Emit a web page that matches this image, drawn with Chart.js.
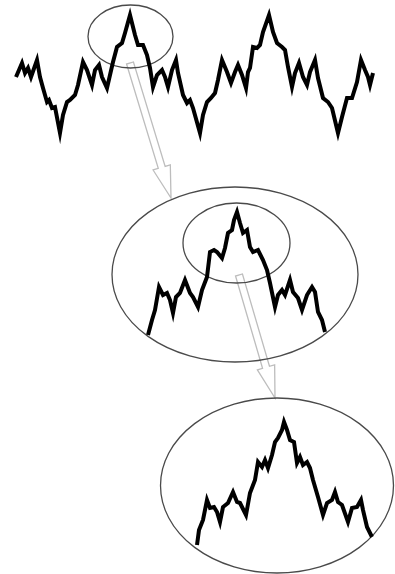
<!DOCTYPE html>
<html>
<head>
<meta charset="utf-8">
<script src="https://cdn.jsdelivr.net/npm/chart.js@4.4.1/dist/chart.umd.min.js"></script>
<style>
  html, body { margin: 0; padding: 0; background: #fff; }
  #wrap { width: 395px; height: 574px; }
</style>
</head>
<body>
<div id="wrap"><canvas id="fractal" width="395" height="574"></canvas></div>
<script>
// Curva completa (arriba) y dos ampliaciones del pico (medio y abajo)
const topX = [16, 22, 25, 28, 31, 37, 40, 43, 47, 49, 52, 55, 60, 63, 67, 70, 75, 78, 83, 87, 92, 95, 99, 102, 107, 110, 113, 117, 122, 125, 130,
  135, 138, 143, 147, 150, 153, 157, 162, 165, 168, 172, 176, 178, 183, 187, 190, 193, 200, 203, 207, 211, 215, 218, 222, 227, 231, 235, 238, 242, 246, 248,
  250, 253, 257, 260, 263, 269, 273, 277, 282, 285, 288, 292, 295, 299, 303, 307, 310, 315, 318, 323, 328, 332, 338, 342, 347, 352, 357, 361, 365, 368, 370, 373];
const topY = [77, 63, 73, 68, 77, 60, 77, 88, 102, 100, 108, 107, 133, 115, 102, 100, 95, 85, 62, 70, 85, 70, 65, 77, 88, 75, 62, 47, 43, 33, 15,
  35, 45, 45, 55, 68, 87, 75, 70, 77, 87, 70, 60, 73, 95, 103, 100, 108, 133, 115, 102, 98, 93, 80, 60, 72, 83, 72, 65, 75, 88, 72,
  68, 47, 48, 45, 32, 15, 32, 43, 47, 50, 67, 87, 73, 63, 77, 85, 72, 60, 78, 98, 102, 108, 133, 117, 98, 98, 82, 60, 70, 77, 85, 73];

const midX = [148, 152, 155, 159, 163, 167, 170, 173, 176, 180, 185, 190, 193, 198, 202, 207, 210, 214, 217, 222, 225, 228, 232, 234, 237,
  240, 243, 247, 250, 253, 258, 263, 267, 270, 275, 278, 282, 285, 290, 293, 298, 302, 307, 312, 315, 318, 322, 325];
const midY = [335, 320, 310, 287, 295, 293, 300, 313, 297, 293, 280, 293, 297, 307, 290, 277, 252, 250, 252, 258, 248, 233, 230, 220, 212,
  223, 233, 230, 247, 252, 250, 260, 270, 283, 307, 295, 290, 295, 280, 292, 298, 310, 295, 287, 292, 312, 320, 332];

const botX = [197, 199, 203, 207, 210, 214, 217, 220, 223, 228, 233, 237, 240, 246, 250, 255, 258, 262, 265, 268, 272, 275, 278, 282, 284,
  287, 290, 294, 297, 300, 303, 307, 310, 313, 318, 323, 327, 332, 335, 338, 342, 348, 352, 357, 361, 363, 367, 372];
const botY = [545, 530, 520, 500, 508, 507, 512, 522, 507, 503, 492, 502, 503, 515, 493, 480, 462, 467, 460, 468, 455, 442, 438, 430, 422,
  430, 440, 442, 463, 457, 465, 462, 468, 480, 497, 515, 503, 500, 492, 502, 505, 522, 508, 507, 500, 510, 527, 537];

// Elipses de ampliación: centro y radios
const ellipseCx = [130.5, 235, 236.5, 277];
const ellipseCy = [36.5, 274.5, 243, 485.5];
const ellipseRx = [42.5, 123, 53.5, 116.5];
const ellipseRy = [31.5, 87.5, 40, 87.5];

// Flechas huecas: cola -> punta
const arrowFromX = [130, 239];
const arrowFromY = [63, 275];
const arrowToX = [171, 275];
const arrowToY = [198, 398];

const toPoints = (xs, ys) => xs.map((x, i) => ({ x: x, y: ys[i] }));

// Dibuja las flechas y las elipses debajo de las curvas
const zoomMarksPlugin = {
    id: "zoomMarks",
    beforeDatasetsDraw(chart) {
        const { ctx, scales } = chart;
        const sx = scales.x, sy = scales.y;
        ctx.save();

        for (let i = 0; i < arrowFromX.length; i++) {
            const x0 = sx.getPixelForValue(arrowFromX[i]), y0 = sy.getPixelForValue(arrowFromY[i]);
            const x1 = sx.getPixelForValue(arrowToX[i]), y1 = sy.getPixelForValue(arrowToY[i]);
            const len = Math.hypot(x1 - x0, y1 - y0);
            const ux = (x1 - x0) / len, uy = (y1 - y0) / len;
            const px = -uy, py = ux;
            const shaft = 3.6, head = 9, headLen = 32;
            const bx = x1 - ux * headLen, by = y1 - uy * headLen;
            ctx.beginPath();
            ctx.moveTo(x0 + px * shaft, y0 + py * shaft);
            ctx.lineTo(bx + px * shaft, by + py * shaft);
            ctx.lineTo(bx + px * head, by + py * head);
            ctx.lineTo(x1, y1);
            ctx.lineTo(bx - px * head, by - py * head);
            ctx.lineTo(bx - px * shaft, by - py * shaft);
            ctx.lineTo(x0 - px * shaft, y0 - py * shaft);
            ctx.closePath();
            ctx.fillStyle = "#fff";
            ctx.fill();
            ctx.strokeStyle = "#bdbdbd";
            ctx.lineWidth = 1.3;
            ctx.stroke();
        }

        ctx.strokeStyle = "#4a4a4a";
        ctx.lineWidth = 1.3;
        for (let i = 0; i < ellipseCx.length; i++) {
            const cx = sx.getPixelForValue(ellipseCx[i]), cy = sy.getPixelForValue(ellipseCy[i]);
            const rx = Math.abs(sx.getPixelForValue(ellipseCx[i] + ellipseRx[i]) - cx);
            const ry = Math.abs(sy.getPixelForValue(ellipseCy[i] + ellipseRy[i]) - cy);
            ctx.beginPath();
            ctx.ellipse(cx, cy, rx, ry, 0, 0, Math.PI * 2);
            ctx.stroke();
        }
        ctx.restore();
    }
};

const curveStyle = {
    showLine: true,
    borderColor: "#000",
    borderWidth: 4,
    pointRadius: 0,
    tension: 0,
    borderJoinStyle: "miter",
    fill: false
};

new Chart(document.getElementById("fractal"), {
    type: "scatter",
    data: {
        datasets: [
            Object.assign({ label: "completa", data: toPoints(topX, topY) }, curveStyle),
            Object.assign({ label: "ampliación 1", data: toPoints(midX, midY) }, curveStyle),
            Object.assign({ label: "ampliación 2", data: toPoints(botX, botY) }, curveStyle)
        ]
    },
    options: {
        responsive: false,
        animation: false,
        layout: { padding: 0 },
        plugins: {
            legend: { display: false },
            tooltip: { enabled: false }
        },
        scales: {
            x: { type: "linear", min: 0, max: 395, display: false },
            y: { type: "linear", min: 0, max: 574, reverse: true, display: false }
        }
    },
    plugins: [zoomMarksPlugin]
});
</script>
</body>
</html>
